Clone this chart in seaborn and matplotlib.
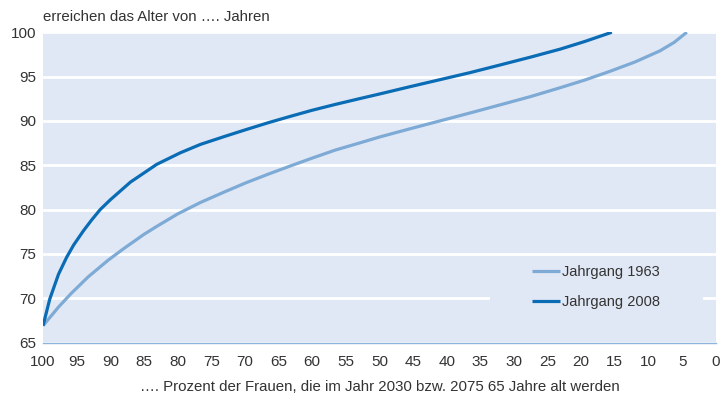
import pandas as pd
import matplotlib.pyplot as plt
import seaborn as sns

# -------------------------------
# DATEN / DATA
# -------------------------------
pct_1963 = [100, 97.7, 95.8, 93.3, 90.3, 88.0, 85.0, 83.1, 80.0, 76.6, 73.0,
            69.9, 66.5, 63.3, 60.0, 56.6, 53.0, 49.9, 45.5, 41.0, 36.5, 32.1,
            27.5, 23.1, 19.5, 15.7, 12.0, 8.3, 6.2, 4.3]
age_1963 = [66.9, 69.0, 70.55, 72.4, 74.3, 75.6, 77.2, 78.1, 79.5, 80.8, 82.0,
            83.0, 84.0, 84.9, 85.8, 86.7, 87.5, 88.2, 89.1, 90.0, 90.9, 91.8,
            92.75, 93.75, 94.6, 95.6, 96.65, 97.9, 98.85, 100.0]

pct_2008 = [100, 99.0, 97.7, 96.5, 95.45, 94.0, 92.8, 91.5, 90.0, 87.0, 83.1,
            79.6, 76.6, 73.0, 69.9, 66.5, 63.3, 60.0, 56.6, 53.0, 49.9, 45.5,
            41.0, 36.5, 32.1, 27.5, 23.1, 19.5, 15.45]
age_2008 = [66.9, 69.9, 72.7, 74.6, 76.0, 77.6, 78.8, 80.0, 81.1, 83.1, 85.1,
            86.4, 87.35, 88.25, 89.0, 89.8, 90.5, 91.2, 91.85, 92.5, 93.05, 93.85,
            94.65, 95.45, 96.3, 97.2, 98.1, 98.95, 100.0]

x_ticks = list(range(100, -1, -5))
y_ticks = list(range(65, 101, 5))

col_1963 = '#7eaad6'
col_2008 = '#0a6cb4'
bg = '#e1e8f5'
txt = '#333333'

df = pd.concat([
    pd.DataFrame({'pct': pct_1963, 'age': age_1963, 'serie': 'Jahrgang 1963'}),
    pd.DataFrame({'pct': pct_2008, 'age': age_2008, 'serie': 'Jahrgang 2008'}),
])

# -------------------------------
# LAYOUT
# -------------------------------
sns.set_style('white')
plt.rcParams['font.family'] = ['Liberation Sans', 'DejaVu Sans']

fig = plt.figure(figsize=(7.23, 4.03), dpi=100)
ax = fig.add_axes([0.0595, 0.150, 0.9305, 0.770])
ax.set_facecolor(bg)

sns.lineplot(data=df, x='pct', y='age', hue='serie', sort=False,
             palette={'Jahrgang 1963': col_1963, 'Jahrgang 2008': col_2008},
             linewidth=2.3, ax=ax, zorder=3, solid_joinstyle='round',
             solid_capstyle='butt')

ax.set_xlim(100, 0)
ax.set_ylim(65, 100)
ax.set_xticks(x_ticks)
ax.set_yticks(y_ticks)
ax.yaxis.grid(True, color='white', linewidth=2)
ax.xaxis.grid(False)
ax.set_axisbelow(True)

for s in ['top', 'right', 'left']:
    ax.spines[s].set_visible(False)
ax.spines['bottom'].set_color('#8fb4dc')
ax.spines['bottom'].set_linewidth(1)

ax.tick_params(axis='x', length=5, width=1, color='#8fb4dc', labelsize=11,
               labelcolor=txt, pad=4)
ax.tick_params(axis='y', length=0, labelsize=11, labelcolor=txt, pad=5)

ax.set_xlabel('…. Prozent der Frauen, die im Jahr 2030 bzw. 2075 65 Jahre alt werden',
              fontsize=10.8, color=txt, labelpad=8)
ax.set_ylabel('')
fig.text(0.0595, 0.957, 'erreichen das Alter von …. Jahren', fontsize=10.8,
         color=txt, ha='left', va='center')

# Legendenhintergrund unterbricht die Gitterlinie bei 70
ax.add_patch(plt.Rectangle((0.664, 0.08), 0.317, 0.19, transform=ax.transAxes,
                           facecolor=bg, edgecolor='none', zorder=1.5))
leg = ax.legend(loc='center left', bbox_to_anchor=(0.7266, 0.179),
                frameon=False, fontsize=10.5, handlelength=1.9,
                handletextpad=0.2, labelspacing=1.05, borderpad=0,
                borderaxespad=0)
for t in leg.get_texts():
    t.set_color(txt)

fig.savefig('out.png', dpi=100)
